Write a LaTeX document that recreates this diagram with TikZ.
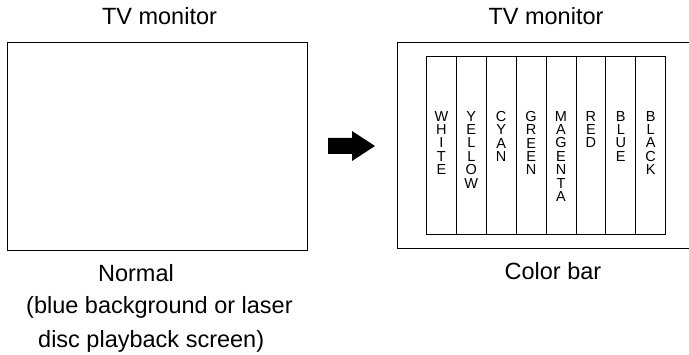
\documentclass[tikz,border=0pt]{standalone}
\usepackage{fontspec}
\setmainfont{Liberation Sans}
\usetikzlibrary{positioning}

\tikzset{
  screen/.style={draw, line width=1.1pt, inner sep=0pt, anchor=north west},
  caption/.style={font=\fontsize{23.5}{28}\selectfont, inner sep=0pt, anchor=base},
  barlabel/.style={font=\fontsize{14.5}{13.4}\selectfont, align=center, inner sep=0pt, anchor=north},
}

\begin{document}
\begin{tikzpicture}[x=1pt, y=-1pt]
  \useasboundingbox (0,0) rectangle (689,355);

  % left monitor
  \node[screen, minimum width=300pt, minimum height=208pt] (normal) at (7,42) {};
  \node[caption] (tvl) at (159.5,25) {TV monitor};
  \node[caption] (nrm) at (136,282) {Normal};
  \node[caption, anchor=base west] (nrma) at (26,314) {(blue background or laser};
  \node[caption, anchor=base west] (nrmb) at (38,348) {disc playback screen)};

  % arrow
  \fill (328,138) -- (352,138) -- (352,131) -- (375,146) -- (352,161) -- (352,154) -- (328,154) -- cycle;

  % right monitor (runs off the right edge)
  \node[screen, minimum width=310pt, minimum height=206pt] (cbar) at (397,42) {};
  \node[caption] (tvr) at (546,25) {TV monitor};
  \node[caption] (cbl) at (553,280) {Color bar};

  % bars
  \foreach \word [count=\i from 0] in {{W\\H\\I\\T\\E}, {Y\\E\\L\\L\\O\\W}, {C\\Y\\A\\N},
      {G\\R\\E\\E\\N}, {M\\A\\G\\E\\N\\T\\A}, {R\\E\\D}, {B\\L\\U\\E}, {B\\L\\A\\C\\K}} {
    \node[screen, line width=0.9pt, minimum width=29.9pt, minimum height=178pt] (bar\i) at (426+29.9*\i,56) {};
    \node[barlabel] (lab\i) at ([yshift=-55pt]bar\i.north) {\word};
  }
\end{tikzpicture}
\end{document}
